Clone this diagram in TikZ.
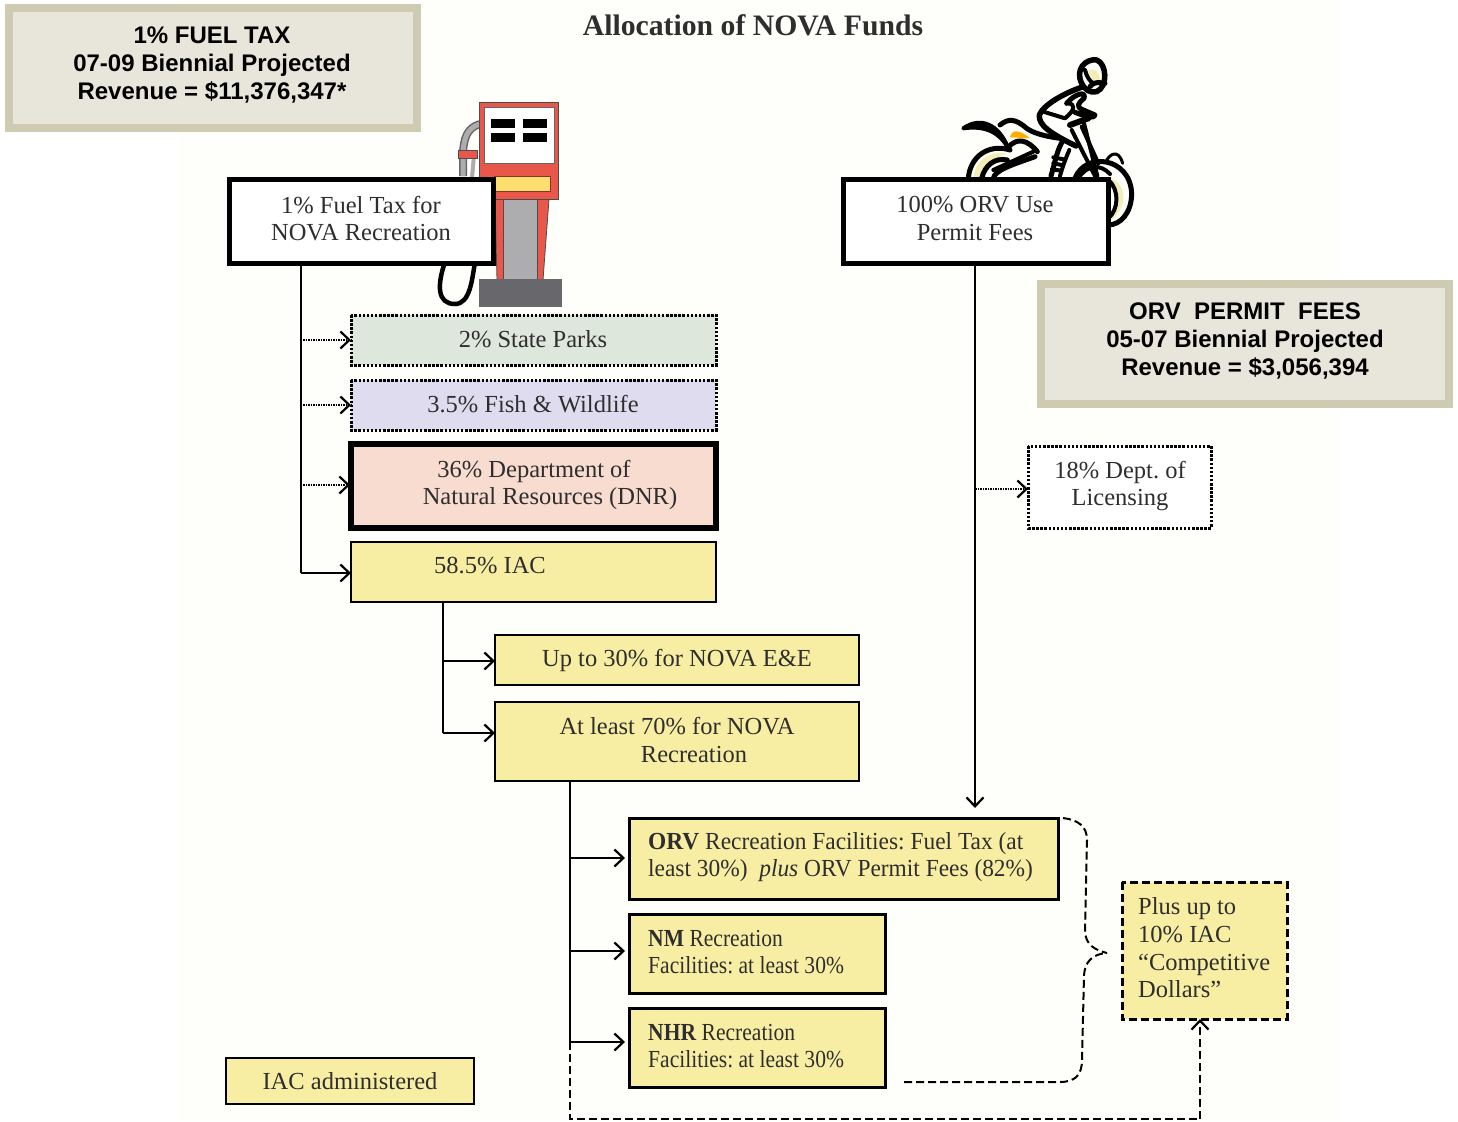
\documentclass[tikz,border=0pt]{standalone}
\usepackage{fontspec}
\setmainfont{Liberation Serif}
\newfontfamily\hdrfont{Liberation Sans}
\newfontfamily\narrowfont[FakeStretch=0.88]{Liberation Serif}
\newfontfamily\semifont[FakeStretch=0.955]{Liberation Serif}
\usetikzlibrary{arrows.meta}
\definecolor{ink}{HTML}{2E2E2E}
\definecolor{boxyellow}{HTML}{F8EEA3}
\definecolor{tanline}{HTML}{CFCBB3}
\definecolor{tanfill}{HTML}{E8E6DB}
\definecolor{pumpred}{HTML}{E8574A}
\definecolor{pumpgray}{HTML}{ADADB0}
\definecolor{pumpdark}{HTML}{68686C}
\definecolor{pagetint}{HTML}{FEFEFB}
\definecolor{parksfill}{HTML}{DDE7DB}
\definecolor{fishfill}{HTML}{DFDCEF}
\definecolor{dnrfill}{HTML}{F8DCCF}
\definecolor{visor}{HTML}{F3EDB8}
\tikzset{
  hdr/.style={draw=tanline,line width=8pt,fill=tanfill},
  hdrtext/.style={font=\hdrfont\bfseries\fontsize{24}{28}\selectfont,text=black,align=center,inner sep=0pt},
  txt/.style={font=\frenchspacing\fontsize{24.5}{27.7}\selectfont,text=ink,inner sep=0pt,align=center},
  ltxt/.style={txt,align=left},
  white box/.style={draw=black,line width=5pt,fill=white},
  ybox/.style={draw=black,line width=2.5pt,fill=boxyellow},
  dotbox/.style={draw=black,line width=3pt,dash pattern=on 2.5pt off 1.6pt},
  dashbox/.style={draw=black,line width=3pt,dash pattern=on 8pt off 4pt,fill=boxyellow},
  barb/.style={-{Straight Barb[length=9pt,width=17pt,line width=2.2pt]}},
  conn/.style={draw=black,line width=2pt},
  dotconn/.style={draw=black,line width=2pt,dash pattern=on 1.5pt off 1pt},
  dashconn/.style={draw=black,line width=2pt,dash pattern=on 8pt off 4pt},
  moto/.style={draw=black,line width=4pt,line cap=round,line join=round},
}
\begin{document}
\begin{tikzpicture}[x=1pt,y=-1pt]
\useasboundingbox (0,0) rectangle (1458,1121);
\fill[white] (0,0) rectangle (1458,1121);
\fill[pagetint] (178,0) rectangle (1340,1121);

% ---- fuel pump
\draw[draw=gray!80!black,line width=8pt] (480,124) .. controls (466,128) and (464,140) .. (463,152) -- (463,176);
\draw[draw=pumpgray,line width=5pt] (480,124) .. controls (466,128) and (464,140) .. (463,152) -- (463,176);
\draw[draw=pumpgray,line width=4pt] (474,155) -- (472,178);
\fill[pumpred,draw=black!70,line width=.8pt] (458,150) rectangle (477,158);
\draw[black,line width=4.5pt] (445,262) .. controls (437,285) and (437,304) .. (455,304) .. controls (470,304) and (472,280) .. (475,262);
\fill[pumpred,draw=black!70,line width=.8pt] (495,199) -- (549,199) -- (543,280) -- (497,280) -- cycle;
\fill[pumpgray,draw=black!70,line width=.8pt] (503,199) rectangle (537,279);
\fill[pumpred,draw=black!70,line width=1pt] (479,103) rectangle (558,199);
\fill[white,draw=black!60,line width=.8pt] (484,107) rectangle (554,163);
\fill[black] (491,119) rectangle (515,128);
\fill[black] (523,119) rectangle (547,128);
\fill[black] (491,133) rectangle (515,142);
\fill[black] (523,133) rectangle (547,142);
\fill[yellow!60!orange!55!white,draw=black!40!pumpred,line width=.8pt] (494,176) rectangle (550,191);
\fill[pumpdark] (479,279) rectangle (562,307);

% ---- motorcycle
\begin{scope}[shift={(950,50)},x=.3333pt,y=-.3333pt]
  % rear wheel
  \fill[visor] (70,385) .. controls (75,330) and (120,300) .. (170,312) .. controls (125,325) and (105,350) .. (105,385) -- cycle;
  \draw[moto,line width=5pt] (55,385) .. controls (60,320) and (115,280) .. (180,300);
  \draw[moto,line width=5pt] (95,385) .. controls (105,345) and (135,322) .. (172,330);
  \draw[moto,line width=5pt] (130,385) .. controls (135,360) and (185,345) .. (255,320);
  \draw[moto] (130,360) -- (250,305);
  % front wheel
  \fill[visor] (480,385) .. controls (530,395) and (535,480) .. (480,512) .. controls (505,470) and (500,420) .. (480,385);
  \draw[moto,line width=5pt] (375,385) .. controls (405,305) and (540,320) .. (545,430) .. controls (545,490) and (510,525) .. (475,525);
  \draw[moto] (385,385) .. controls (410,345) and (450,340) .. (480,372);
  \draw[moto,line width=3pt] (470,330) .. controls (490,300) and (510,310) .. (518,340);
  \draw[moto] (475,390) .. controls (510,420) and (505,480) .. (475,505);
  % rear fender & seat
  \draw[moto,fill=black] (40,235) .. controls (90,200) and (145,220) .. (175,295) .. controls (150,250) and (110,225) .. (40,235) -- cycle;
  \draw[moto,line width=5pt] (150,225) .. controls (175,205) and (195,205) .. (230,235) .. controls (250,250) and (290,260) .. (330,265);
  \draw[moto,line width=5pt] (175,292) .. controls (200,262) and (232,268) .. (262,305);
  \fill[orange!65!yellow] (180,262) .. controls (185,240) and (205,235) .. (240,265) -- cycle;
  % engine / frame
  \draw[moto,line width=5pt] (340,270) .. controls (320,300) and (315,340) .. (303,378);
  \draw[moto] (358,300) .. controls (345,330) and (338,350) .. (330,378);
  \draw[moto] (310,322) -- (340,328);
  \draw[moto] (310,340) -- (335,345);
  \draw[moto] (306,358) -- (333,362);
  \draw[moto] (365,240) -- (435,378);
  \draw[moto] (395,230) -- (445,340);
  \draw[moto] (402,220) -- (442,378);
  \draw[moto,line width=6pt] (360,225) -- (415,205);
  % rider
  \draw[moto,line width=5.5pt] (400,110) .. controls (340,130) and (280,165) .. (268,195) .. controls (265,225) and (300,250) .. (378,288);
  \draw[moto] (280,185) -- (345,205) .. controls (375,180) and (380,160) .. (350,160);
  \draw[moto,line width=5pt] (350,160) .. controls (375,130) and (410,122) .. (402,145) .. controls (385,160) and (375,170) .. (400,180) -- (435,195) .. controls (430,207) and (415,202) .. (375,187);
  % helmet
  \fill[visor] (415,62) .. controls (435,50) and (455,70) .. (450,105) .. controls (435,95) and (420,85) .. (415,62);
  \draw[moto,line width=5.5pt] (395,100) .. controls (375,60) and (405,25) .. (440,30) .. controls (470,40) and (475,110) .. (440,125) .. controls (420,130) and (405,120) .. (395,100);
  \draw[moto,line width=5pt] (420,110) .. controls (435,90) and (455,100) .. (465,100);
  \draw[moto] (405,60) .. controls (410,80) and (420,95) .. (430,100);
\end{scope}

% ---- title
\node[font=\bfseries\fontsize{29.7}{32}\selectfont,text=ink,inner sep=0pt] (title) at (753,25) {Allocation of NOVA Funds};

% ---- header panels
\draw[hdr] (9,8) rectangle (417,128);
\node[hdrtext] (hdrA) at (212,65) {1\% FUEL TAX\\07-09 Biennial Projected\\Revenue = \$11,376,347*};
\draw[hdr] (1041,284) rectangle (1449,404);
\node[hdrtext] (hdrB) at (1245,341) {ORV\ \ PERMIT\ \ FEES\\05-07 Biennial Projected\\Revenue = \$3,056,394};

% ---- boxes
\path[white box] (229,179) rectangle (493,263);
\node[txt] (fuel) at (361,218.5) {1\% Fuel Tax for\\NOVA Recreation};
\path[white box] (843,179) rectangle (1108,263);
\node[txt] (orv) at (975,218.5) {100\% ORV Use\\Permit Fees};

\path[dotbox,fill=parksfill] (351,315) rectangle (716,365);
\node[txt] (parks) at (533,339) {2\% State Parks};
\path[dotbox,fill=fishfill] (351,380) rectangle (716,430);
\node[txt] (fish) at (533,404) {3.5\% Fish \& Wildlife};
\path[draw=black,line width=5.5pt,fill=dnrfill] (351,444) rectangle (716,528);
\node[txt] (dnrA) at (534,471) {36\% Department of};
\node[txt] (dnrB) at (550,499) {Natural Resources (DNR)};
\path[ybox] (351,542) rectangle (716,602);
\node[txt] (iac) at (490,566) {58.5\% IAC};
\path[ybox] (495,635) rectangle (859,685);
\node[txt] (ee) at (677,660) {Up to 30\% for NOVA E\&E};
\path[ybox] (495,702) rectangle (859,781);
\node[txt] (recA) at (677,726) {At least 70\% for NOVA};
\node[txt] (recB) at (694,754) {Recreation};
\path[ybox,line width=3pt] (629,818) rectangle (1058,899);
\node[ltxt,anchor=west,font=\semifont\frenchspacing\fontsize{24.5}{27.7}\selectfont] (orvf) at (648,857) {\textbf{ORV} Recreation Facilities: Fuel Tax (at\\least 30\%)\ \ \textit{plus} ORV Permit Fees (82\%)};
\path[ybox,line width=3pt] (629,914) rectangle (885,993);
\node[ltxt,anchor=west,font=\narrowfont\frenchspacing\fontsize{24.5}{27.7}\selectfont] (nm) at (648,952) {\textbf{NM} Recreation\\Facilities: at least 30\%};
\path[ybox,line width=3pt] (629,1008) rectangle (885,1087);
\node[ltxt,anchor=west,font=\narrowfont\frenchspacing\fontsize{24.5}{27.7}\selectfont] (nhr) at (648,1046) {\textbf{NHR} Recreation\\Facilities: at least 30\%};
\path[ybox] (226,1058) rectangle (474,1104);
\node[txt] (legend) at (350,1081) {IAC administered};
\path[dotbox,fill=white] (1028,446) rectangle (1211,528);
\node[txt] (lic) at (1120,486) {18\% Dept. of\\Licensing};
\path[dashbox] (1122,882) rectangle (1287,1019);
\node[ltxt,anchor=west] (plus) at (1138,948) {Plus up to\\10\% IAC\\``Competitive\\Dollars''};

% ---- connector anchors
\coordinate (pT) at (301,263);
\coordinate (pD1) at (303,340); \coordinate (pE1) at (351,340);
\coordinate (pD2) at (303,405); \coordinate (pE2) at (351,405);
\coordinate (pD3) at (303,485); \coordinate (pE3) at (350,485);
\coordinate (pC) at (301,573); \coordinate (pE4) at (351,573);
\coordinate (iT) at (443,602);
\coordinate (iA) at (443,661); \coordinate (iAe) at (495,661);
\coordinate (iB) at (443,733); \coordinate (iBe) at (495,733);
\coordinate (rT) at (570,781);
\coordinate (rA) at (570,858); \coordinate (rAe) at (625,858);
\coordinate (rB) at (570,951); \coordinate (rBe) at (625,951);
\coordinate (rC) at (570,1042); \coordinate (rCe) at (625,1042);
\coordinate (rD) at (570,1119); \coordinate (rE) at (1200,1119); \coordinate (rF) at (1200,1019);
\coordinate (oT) at (975,263); \coordinate (oB) at (975,808);
\coordinate (oL) at (975,489); \coordinate (oLe) at (1028,489);
\coordinate (bA) at (1063,818); \coordinate (bB) at (904,1082); \coordinate (bTip) at (1107,953);

% ---- connectors
\draw[conn] (pT) -- (pC);
\draw[conn,barb] (pC) -- (pE4);
\draw[dotconn] (pD1) -- (pE1); \draw[conn,barb] ([xshift=-1pt]pE1) -- (pE1);
\draw[dotconn] (pD2) -- (pE2); \draw[conn,barb] ([xshift=-1pt]pE2) -- (pE2);
\draw[dotconn] (pD3) -- (pE3); \draw[conn,barb] ([xshift=-1pt]pE3) -- (pE3);
\draw[conn] (iT) -- (iB);
\draw[conn,barb] (iA) -- (iAe);
\draw[conn,barb] (iB) -- (iBe);
\draw[conn] (rT) -- (rC);
\draw[conn,barb] (rA) -- (rAe);
\draw[conn,barb] (rB) -- (rBe);
\draw[conn,barb] (rC) -- (rCe);
\draw[dashconn] (rC) -- (rD) -- (rE);
\draw[dashconn,barb] (rE) -- (rF);
\draw[conn,barb] (oT) -- (oB);
\draw[dotconn] (oL) -- (oLe); \draw[conn,barb] ([xshift=-1pt]oLe) -- (oLe);
\draw[dashconn] (bA) .. controls (1078,820) and (1087,826) .. (1087,840) -- (1085,930) .. controls (1085,945) and (1095,950) .. (bTip);
\draw[dashconn] (bB) -- (1060,1082) .. controls (1075,1082) and (1082,1075) .. (1082,1060) -- (1084,975) .. controls (1085,962) and (1092,954) .. (bTip);
\end{tikzpicture}
\end{document}
